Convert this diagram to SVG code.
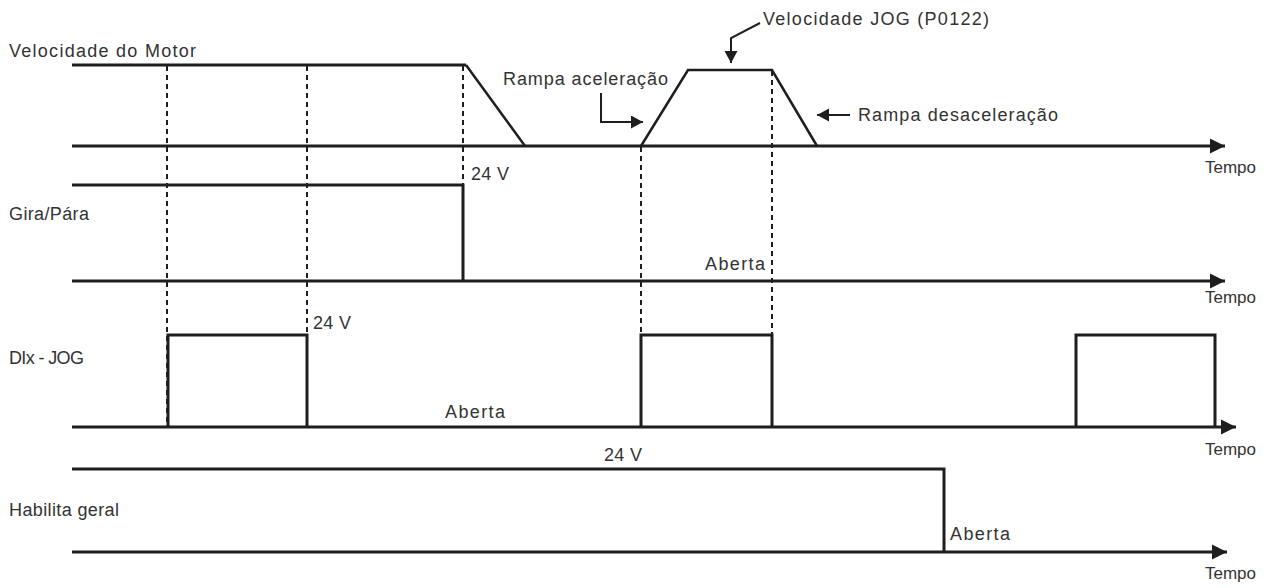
<svg xmlns="http://www.w3.org/2000/svg" width="1279" height="588" viewBox="0 0 1279 588">
<defs>
<style>
text{font-family:"Liberation Sans",Arial,sans-serif;font-size:18px;fill:#333}
.t{font-size:17px}
.sig{fill:none;stroke:#1e1e1e;stroke-width:3;stroke-linejoin:miter}
.ramp{fill:none;stroke:#1e1e1e;stroke-width:2.5}
.dot{fill:none;stroke:#1e1e1e;stroke-width:2;stroke-dasharray:5,4}
.ann{fill:none;stroke:#1e1e1e;stroke-width:2}
</style>
<marker id="ta" markerUnits="userSpaceOnUse" markerWidth="16" markerHeight="16" refX="15" refY="8" orient="auto">
<path d="M0,0.5 L15,8 L0,15.5 Z" fill="#1e1e1e"/>
</marker>
<marker id="sa" markerUnits="userSpaceOnUse" markerWidth="14" markerHeight="14" refX="12" refY="6.5" orient="auto">
<path d="M0,0 L12,6.5 L0,13 Z" fill="#1e1e1e"/>
</marker>
</defs>
<rect width="1279" height="588" fill="#fff"/>

<g id="connectors">
<line class="dot" x1="167" y1="66" x2="167" y2="428"/>
<line class="dot" x1="307" y1="66" x2="307" y2="335"/>
<line class="dot" x1="463" y1="66" x2="463" y2="185"/>
<line class="dot" x1="641" y1="147" x2="641" y2="428"/>
<line class="dot" x1="772" y1="71" x2="772" y2="428"/>
<path class="ann" d="M601,93 V122 H643" marker-end="url(#sa)"/>
<path class="ann" d="M760,23 L731,38 V63" marker-end="url(#sa)"/>
<path class="ann" d="M850,115 H817" marker-end="url(#sa)"/>
</g>

<g id="motor-speed">
<text x="9" y="57" textLength="187" lengthAdjust="spacing">Velocidade do Motor</text>
<polyline class="sig" points="72,65 466,65"/>
<line class="ramp" x1="466" y1="65" x2="525" y2="146"/>
<line class="sig" x1="72" y1="146" x2="1225" y2="146" marker-end="url(#ta)"/>
<polyline class="ramp" points="641,146 688,70 772,70 817,146"/>
<text x="503" y="85" textLength="165" lengthAdjust="spacing">Rampa aceleração</text>
<text x="763" y="25" textLength="226" lengthAdjust="spacing">Velocidade JOG (P0122)</text>
<text x="858" y="121" textLength="200" lengthAdjust="spacing">Rampa desaceleração</text>
<text class="t" x="1205" y="173">Tempo</text>
</g>

<g id="gira-para">
<text x="9" y="220" textLength="80" lengthAdjust="spacing">Gira/Pára</text>
<polyline class="sig" points="72,185 463,185 463,281"/>
<line class="sig" x1="72" y1="281" x2="1225" y2="281" marker-end="url(#ta)"/>
<text x="471" y="180" textLength="38" lengthAdjust="spacing">24 V</text>
<text x="705" y="270" textLength="60" lengthAdjust="spacing">Aberta</text>
<text class="t" x="1205" y="303">Tempo</text>
</g>

<g id="dix-jog">
<text x="9" y="364" textLength="75" lengthAdjust="spacing">DIx - JOG</text>
<line class="sig" x1="72" y1="427" x2="1236" y2="427" marker-end="url(#ta)"/>
<polyline class="sig" points="168,427 168,335 307,335 307,427"/>
<polyline class="sig" points="641,427 641,335 772,335 772,427"/>
<polyline class="sig" points="1076,427 1076,335 1215,335 1215,427"/>
<text x="313" y="329" textLength="38" lengthAdjust="spacing">24 V</text>
<text x="445" y="418" textLength="60" lengthAdjust="spacing">Aberta</text>
<text class="t" x="1205" y="455">Tempo</text>
</g>

<g id="habilita-geral">
<text x="9" y="516" textLength="110" lengthAdjust="spacing">Habilita geral</text>
<polyline class="sig" points="72,469 944,469 944,552"/>
<line class="sig" x1="72" y1="552" x2="1227" y2="552" marker-end="url(#ta)"/>
<text x="604" y="461" textLength="38" lengthAdjust="spacing">24 V</text>
<text x="950" y="540" textLength="60" lengthAdjust="spacing">Aberta</text>
<text class="t" x="1205" y="579">Tempo</text>
</g>
</svg>
